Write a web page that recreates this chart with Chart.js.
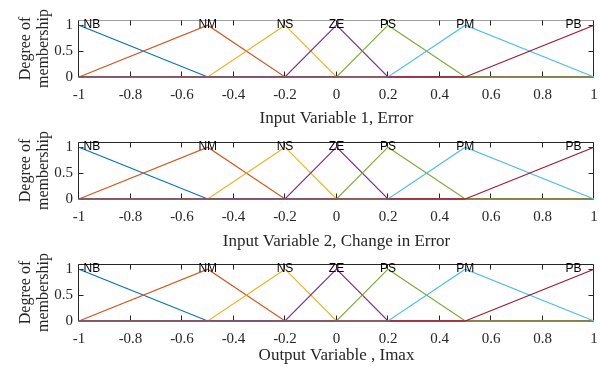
<!DOCTYPE html>
<html><head><meta charset="utf-8">
<script src="https://cdn.jsdelivr.net/npm/chart.js@4.4.1/dist/chart.umd.min.js"></script>
<style>
html,body{margin:0;padding:0;background:#fff;overflow:hidden;width:601px;height:367px;position:relative}
canvas{position:absolute;left:0}
</style></head>
<body>
<canvas id="c0" width="601" height="130" style="top:0px"></canvas>
<canvas id="c1" width="601" height="130" style="top:122px"></canvas>
<canvas id="c2" width="601" height="130" style="top:244px"></canvas>
<script>
// ---- data ----
const xTickValues = [-1, -0.8, -0.6, -0.4, -0.2, 0, 0.2, 0.4, 0.6, 0.8, 1];
const xTickLabels = ['-1', '-0.8', '-0.6', '-0.4', '-0.2', '0', '0.2', '0.4', '0.6', '0.8', '1'];
const yTickValues = [0, 0.5, 1];
const yTickLabels = ['0', '0.5', '1'];
const axisTitles = ['Input Variable 1, Error', 'Input Variable 2, Change in Error', 'Output Variable , Imax'];
const yTitle = ['Degree of', 'membership'];

const mfNames = ['NB', 'NM', 'NS', 'ZE', 'PS', 'PM', 'PB'];
const nbX = [-1, -0.5, 1],            nbY = [1, 0, 0];
const nmX = [-1, -0.5, -0.2, 1],      nmY = [0, 1, 0, 0];
const nsX = [-1, -0.5, -0.2, 0, 1],   nsY = [0, 0, 1, 0, 0];
const zeX = [-1, -0.2, 0, 0.2, 1],    zeY = [0, 0, 1, 0, 0];
const psX = [-1, 0, 0.2, 0.5, 1],     psY = [0, 0, 1, 0, 0];
const pmX = [-1, 0.2, 0.5, 1],        pmY = [0, 0, 1, 0];
const pbX = [-1, 0.5, 1],             pbY = [0, 0, 1];
const mfLabelX = [-0.95, -0.5, -0.2, 0, 0.2, 0.5, 0.92];
const mfLabelY = [1, 1, 1, 1, 1, 1, 1];

// ---- styles ----
const mfXs = [nbX, nmX, nsX, zeX, psX, pmX, pbX];
const mfYs = [nbY, nmY, nsY, zeY, psY, pmY, pbY];
const mfColors = ['#0072BD', '#D95319', '#EDB120', '#7E2F8E', '#77AC30', '#4DBEEE', '#A2142F'];
const titlePadBottom = [1.5, 0.4, 8.5];
const topEdgeColors = ['#a0a0a0', '#262626', '#262626'];
const axisColor = '#262626';
const serif = '"Liberation Serif", "Times New Roman", serif';

const boxPlugin = {
  id: 'box',
  beforeDatasetsDraw(chart, args, opts) {
    const {ctx, chartArea: a, scales: {x, y}} = chart;
    ctx.save();
    ctx.lineWidth = 1;
    const L = Math.round(a.left) - 0.5, R = Math.round(a.right) - 0.5;
    const T = Math.round(a.top) + 0.5, B = Math.round(a.bottom) - 0.5;
    ctx.strokeStyle = axisColor;
    ctx.beginPath();
    ctx.moveTo(L, T); ctx.lineTo(L, B); ctx.lineTo(R, B); ctx.lineTo(R, T);
    ctx.stroke();
    ctx.strokeStyle = opts.topColor;
    ctx.beginPath(); ctx.moveTo(L, T); ctx.lineTo(R, T); ctx.stroke();
    ctx.strokeStyle = axisColor;
    ctx.beginPath();
    xTickValues.forEach(v => {
      const px = Math.round(x.getPixelForValue(v)) - 0.5;
      ctx.moveTo(px, T); ctx.lineTo(px, T + 5);
      ctx.moveTo(px, B); ctx.lineTo(px, B - 5);
    });
    yTickValues.forEach(v => {
      const py = Math.round(y.getPixelForValue(v)) + 0.5;
      ctx.moveTo(L, py); ctx.lineTo(L + 5, py);
      ctx.moveTo(R, py); ctx.lineTo(R - 5, py);
    });
    ctx.stroke();
    ctx.restore();
  },
  afterDatasetsDraw(chart) {
    const {ctx, scales: {x, y}} = chart;
    ctx.save();
    ctx.font = '12px "Liberation Sans", Arial, sans-serif';
    ctx.fillStyle = '#000';
    ctx.textAlign = 'center';
    ctx.textBaseline = 'middle';
    mfNames.forEach((n, i) => {
      ctx.fillText(n, x.getPixelForValue(mfLabelX[i]), y.getPixelForValue(mfLabelY[i]));
    });
    ctx.restore();
  }
};

function makeChart(idx) {
  const datasets = mfNames.map((n, i) => ({
    label: n,
    data: mfXs[i].map((xv, j) => ({x: xv, y: mfYs[i][j]})),
    borderColor: mfColors[i],
    backgroundColor: mfColors[i],
    borderWidth: 1.2,
    pointRadius: 0,
    showLine: true,
    fill: false,
    tension: 0,
    clip: 4,
    order: mfNames.length - i
  }));
  return new Chart(document.getElementById('c' + idx), {
    type: 'scatter',
    data: {datasets},
    plugins: [boxPlugin],
    options: {
      responsive: false,
      animation: false,
      layout: {padding: {top: 20, right: 7, bottom: 0, left: 0}},
      plugins: {legend: {display: false}, tooltip: {enabled: false}, box: {topColor: topEdgeColors[idx]}},
      scales: {
        x: {
          type: 'linear', min: -1, max: 1,
          afterBuildTicks: s => { s.ticks = xTickValues.map(v => ({value: v})); },
          afterFit: s => { s.height = 53; s.paddingRight = 0; s.paddingLeft = 0; },
          ticks: {
            callback: v => xTickLabels[xTickValues.indexOf(v)],
            font: {family: serif, size: 15}, color: axisColor,
            padding: 9, maxRotation: 0, autoSkip: false
          },
          grid: {display: false, drawTicks: false},
          border: {display: false},
          title: {display: true, text: axisTitles[idx], font: {family: serif, size: 17}, color: axisColor,
                  padding: {top: 0, bottom: titlePadBottom[idx]}}
        },
        y: {
          type: 'linear', min: 0, max: 1.1,
          afterBuildTicks: s => { s.ticks = yTickValues.map(v => ({value: v})); },
          afterFit: s => { s.width = 79; },
          ticks: {
            callback: v => yTickLabels[yTickValues.indexOf(v)],
            font: {family: serif, size: 15}, color: axisColor, padding: 6
          },
          grid: {display: false, drawTicks: false},
          border: {display: false},
          title: {display: true, text: yTitle, font: {family: serif, size: 16, lineHeight: 1.1}, color: axisColor,
                  padding: {top: 17, bottom: 0}}
        }
      }
    }
  });
}
[0, 1, 2].forEach(makeChart);
</script>
</body></html>
